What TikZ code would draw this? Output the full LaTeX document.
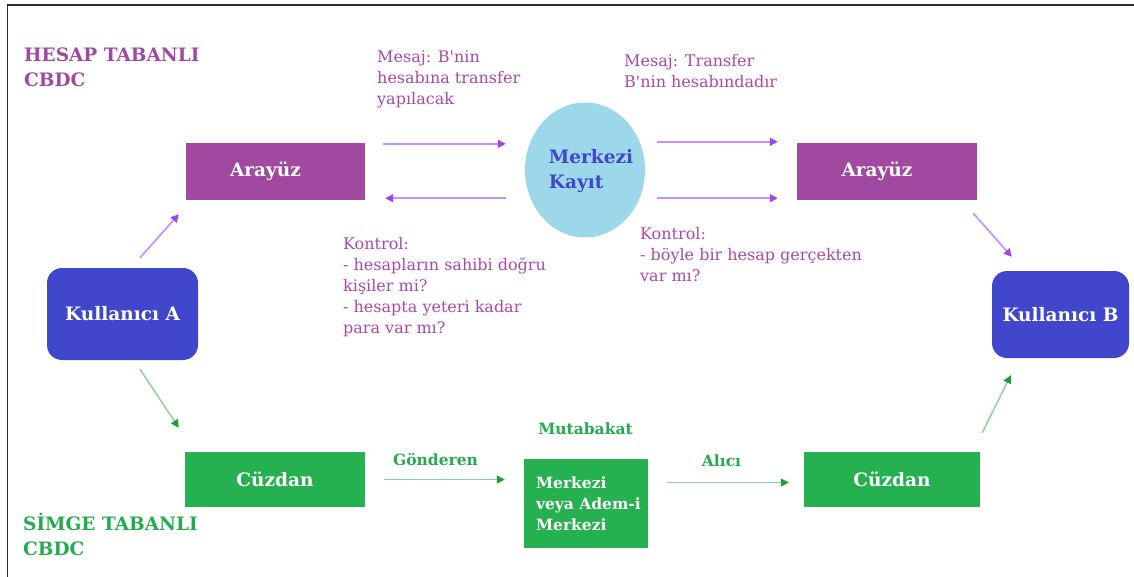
\documentclass[tikz,border=0pt]{standalone}
\usepackage{fontspec}
\setmainfont{DejaVu Serif}
\usetikzlibrary{arrows.meta,calc,shapes.geometric}

\definecolor{hesap}{RGB}{161,73,160}
\definecolor{hesaptxt}{RGB}{170,72,170}
\definecolor{parrline}{RGB}{198,146,250}
\definecolor{parrhead}{RGB}{156,70,240}
\definecolor{kullanici}{RGB}{64,71,204}
\definecolor{kayit}{RGB}{156,216,234}
\definecolor{simge}{RGB}{37,177,79}
\definecolor{simgetxt}{RGB}{34,172,76}
\definecolor{garrline}{RGB}{140,212,150}
\definecolor{garrhead}{RGB}{28,158,60}
\definecolor{framegray}{RGB}{45,45,45}

\tikzset{
  boxfont/.style={font=\bfseries\fontsize{18.5}{25}\selectfont},
  smallbold/.style={font=\bfseries\fontsize{15.5}{21}\selectfont},
  notetext/.style={font=\fontsize{16}{21}\selectfont, text=hesaptxt, align=left,
    anchor=north west, inner sep=0pt},
  arayuzbox/.style={rectangle, fill=hesap, text=white, boxfont,
    minimum width=179pt, minimum height=57pt, inner sep=0pt},
  userbox/.style={rectangle, rounded corners=15pt, fill=kullanici, text=white,
    boxfont, inner sep=0pt},
  walletbox/.style={rectangle, fill=simge, text=white, boxfont,
    minimum height=55pt, inner sep=0pt},
  parr/.style={draw=parrline, line width=1.7pt,
    -{Triangle[length=8pt,width=8pt,color=parrhead]}},
  garr/.style={draw=garrline, line width=1.5pt,
    -{Triangle[length=8pt,width=8pt,color=garrhead]}},
}

\begin{document}
\begin{tikzpicture}[x=1pt,y=-1pt]
\useasboundingbox (0,0) rectangle (1134,577);

% frame along the top and left edges
\draw[framegray, line width=1.5pt] (1134,5) -- (7.5,5) -- (7.5,577);

% section headings
\node[boxfont, text=hesap, align=left, anchor=west, inner sep=0pt] (hesaphead)
  at (24,67.5) {HESAP TABANLI\\CBDC};
\node[boxfont, text=simgetxt, align=left, anchor=west, inner sep=0pt] (simgehead)
  at (23,534) {SİMGE TABANLI\\CBDC};

% account based flow
\node[arayuzbox] (aL) at (275.5,171.5) {Arayüz\hspace*{20pt}};
\node[arayuzbox, minimum width=180pt] (aR) at (887,171.5) {Arayüz\hspace*{20pt}};
\node[ellipse, fill=kayit, minimum width=120pt, minimum height=135pt, inner sep=0pt]
  (mk) at (585,170) {};
\node[boxfont, text=kullanici, align=left, inner sep=0pt] (mktext)
  at ($(mk.center)+(6,1)$) {Merkezi\\Kayıt};

% users
\node[userbox, minimum width=151pt, minimum height=92pt] (kA) at (122.5,314) {Kullanıcı A};
\node[userbox, minimum width=137pt, minimum height=87pt] (kB) at (1060.5,314.5) {Kullanıcı B};

% token based flow
\node[walletbox, minimum width=180pt] (cL) at (275,479.5) {Cüzdan};
\node[walletbox, minimum width=176pt] (cR) at (892,479.5) {Cüzdan};
\node[rectangle, fill=simge, minimum width=124pt, minimum height=89pt, inner sep=0pt] (mb)
  at (586,503.5) {};
\node[smallbold, text=white, align=left, anchor=west, inner sep=0pt] (mbtext)
  at ($(mb.west)+(12,0)$) {Merkezi\\veya Adem-i\\Merkezi};

% green labels
\node[smallbold, text=simgetxt] (mut) at (585.5,429) {Mutabakat};
\node[smallbold, text=simgetxt] (gon) at (435.5,459) {Gönderen};
\node[smallbold, text=simgetxt] (alc) at (721.5,461) {Alıcı};

% notes
\node[notetext] (msg1) at (377,51) {Mesaj: B\textquotesingle nin\\hesabına transfer\\yapılacak};
\node[notetext] (msg2) at (624,54) {Mesaj: Transfer\\B\textquotesingle nin hesabındadır};
\node[notetext] (chk1) at (343,237) {Kontrol:\\- hesapların sahibi doğru\\kişiler mi?\\- hesapta yeteri kadar\\para var mı?};
\node[notetext] (chk2) at (640,227) {Kontrol:\\- böyle bir hesap gerçekten\\var mı?};

% purple connectors
\draw[parr] ($(aL.north east)+(18,1)$) -- ($(mk.west |- aL.north)+(-19,1)$);
\draw[parr] ($(mk.west |- aL.south)+(-19,-2)$) -- ($(aL.south east)+(20,-2)$);
\draw[parr] ($(mk.east |- aR.north)+(12,-1)$) -- ($(aR.north west)+(-19,-1)$);
\draw[parr] ($(mk.east |- aR.south)+(12,-2)$) -- ($(aR.south west)+(-19,-2)$);
\draw[parr] ($(kA.north)+(17.5,-10)$) -- ($(aL.south west)+(-7,14)$);
\draw[parr] ($(aR.south east)+(-4,13)$) -- ($(kB.north west)+(20,-14)$);

% green connectors
\draw[garr] ($(kA.south)+(17.5,9)$) -- ($(cL.north west)+(-6,-24)$);
\draw[garr] ($(cR.north east)+(2,-19)$) -- ($(kB.south west)+(19,17)$);
\draw[garr] ($(cL.east)+(19,0)$) -- ($(mb.west |- cL.east)+(-19,0)$);
\draw[garr] ($(mb.east |- cR.west)+(19,3)$) -- ($(cR.west)+(-15,3)$);
\end{tikzpicture}
\end{document}
